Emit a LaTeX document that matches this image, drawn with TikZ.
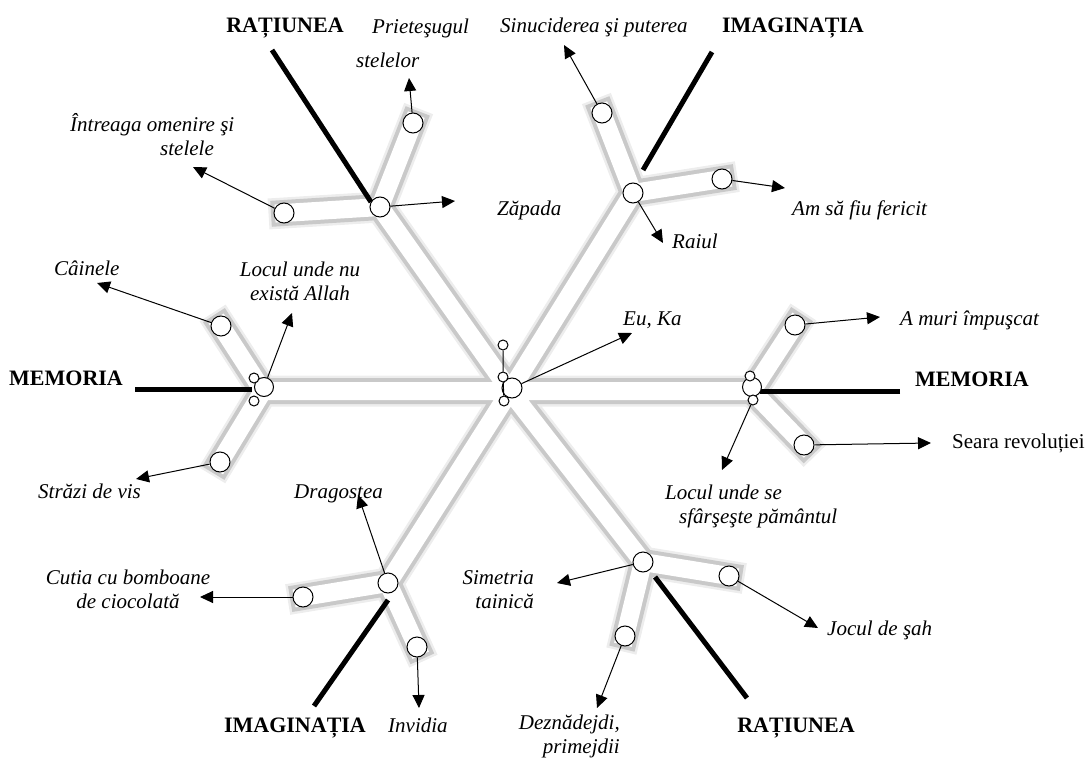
\documentclass[tikz,border=0pt]{standalone}
\usepackage{fontspec}
\setmainfont{Liberation Serif}
\usetikzlibrary{arrows.meta}

\begin{document}
\begin{tikzpicture}[x=1pt,y=-1pt,
    hubnode/.style={circle,draw,fill=white,line width=1pt,minimum size=20pt,inner sep=0pt},
    tinynode/.style={circle,draw,fill=white,line width=1pt,minimum size=10pt,inner sep=0pt},
    textnode/.style={font=\fontsize{21}{24}\selectfont\itshape,inner sep=0pt},
    axisnode/.style={font=\fontsize{22}{26}\selectfont\bfseries,inner sep=0pt,anchor=base},
    axisline/.style={line width=5pt},
    pointer/.style={line width=1pt,-{Triangle[length=13pt,width=12pt]}},
    bandglow/.style={draw=black!7,line width=31pt,line cap=rect},
    bandedge/.style={draw=black!21,line width=26pt,line cap=rect},
    bandfill/.style={draw=white,line width=18pt,line cap=rect}]
    \useasboundingbox (0,0) rectangle (1090,760);
    % skeleton
    \coordinate (mid) at (510,391);
    \coordinate (memL) at (263,391);
    \coordinate (memR) at (752,391);
    \coordinate (ratU) at (380,207);
    \coordinate (imgU) at (633,193);
    \coordinate (imgD) at (388,583);
    \coordinate (ratD) at (643,562);
    \coordinate (ratU-a) at (284,213);
    \coordinate (ratU-b) at (413,123);
    \coordinate (imgU-a) at (602,113);
    \coordinate (imgU-b) at (722,179);
    \coordinate (imgD-a) at (303,597);
    \coordinate (imgD-b) at (417,647);
    \coordinate (ratD-a) at (729,576);
    \coordinate (ratD-b) at (625,636);
    \coordinate (memL-a) at (221,326);
    \coordinate (memL-b) at (220,462);
    \coordinate (memR-a) at (795,325);
    \coordinate (memR-b) at (804,445);
    \draw[bandedge,preaction={bandglow},postaction={bandfill}]
        (mid) -- (memL) (mid) -- (memR) (mid) -- (ratU) (mid) -- (imgU) (mid) -- (imgD) (mid) -- (ratD)
        (ratU) -- (ratU-a) (ratU) -- (ratU-b) (imgU) -- (imgU-a) (imgU) -- (imgU-b)
        (imgD) -- (imgD-a) (imgD) -- (imgD-b) (ratD) -- (ratD-a) (ratD) -- (ratD-b)
        (memL) -- (memL-a) (memL) -- (memL-b) (memR) -- (memR-a) (memR) -- (memR-b);

    % black axes
    \coordinate (ratU-out) at (272,50);   \coordinate (ratU-in) at (371,202);
    \coordinate (imgU-out) at (712,52);   \coordinate (imgU-in) at (643,170);
    \coordinate (memL-out) at (135,389);  \coordinate (memL-in) at (252,389);
    \coordinate (memR-out) at (900,391);  \coordinate (memR-in) at (760,391);
    \coordinate (imgD-out) at (314,706);  \coordinate (imgD-in) at (388,600);
    \coordinate (ratD-out) at (747,698);  \coordinate (ratD-in) at (655,577);
    \draw[axisline] (ratU-out) -- (ratU-in);
    \draw[axisline] (imgU-out) -- (imgU-in);
    \draw[axisline] (memL-out) -- (memL-in);
    \draw[axisline] (memR-out) -- (memR-in);
    \draw[axisline] (imgD-out) -- (imgD-in);
    \draw[axisline] (ratD-out) -- (ratD-in);

    % circles
    \node[hubnode] (euhub) at (512,388) {};
    \node[tinynode] (eutop) at (503,345) {};
    \node[tinynode] (eumid) at (503,377) {};
    \node[tinynode] (eubot) at (504,401) {};
    \draw[line width=1pt] (eutop) -- (eumid) (eumid) -- (eubot);
    \node[hubnode, minimum size=19pt] (memlhub) at (264,387) {};
    \node[tinynode] (memltop) at (254,378) {};
    \node[tinynode] (memlbot) at (254,401) {};
    \node[hubnode, minimum size=19pt] (memrhub) at (752,387) {};
    \node[tinynode] (memrtop) at (750,376) {};
    \node[tinynode] (memrbot) at (753,400) {};
    \node[hubnode] (ratuhub) at (ratU) {};
    \node[hubnode] (imguhub) at (imgU) {};
    \node[hubnode] (imgdhub) at (imgD) {};
    \node[hubnode] (ratdhub) at (ratD) {};
    \node[hubnode] (omeniredot) at (ratU-a) {};
    \node[hubnode] (prietendot) at (ratU-b) {};
    \node[hubnode] (sinuciderdot) at (imgU-a) {};
    \node[hubnode] (fericitdot) at (imgU-b) {};
    \node[hubnode] (cutiadot) at (imgD-a) {};
    \node[hubnode] (invidiadot) at (imgD-b) {};
    \node[hubnode] (jocdot) at (ratD-a) {};
    \node[hubnode] (deznadot) at (ratD-b) {};
    \node[hubnode] (cainedot) at (memL-a) {};
    \node[hubnode] (strazidot) at (memL-b) {};
    \node[hubnode] (impuscatdot) at (memR-a) {};
    \node[hubnode] (searadot) at (memR-b) {};

    % axis names
    \node[axisnode] (ratup) at (285,33) {RAȚIUNEA};
    \node[axisnode] (imagup) at (793,33) {IMAGINAȚIA};
    \node[axisnode] (memleft) at (66,385) {MEMORIA};
    \node[axisnode] (memright) at (972,386) {MEMORIA};
    \node[axisnode] (imagdown) at (295,732) {IMAGINAȚIA};
    \node[axisnode] (ratdown) at (796,732) {RAȚIUNEA};

    % texts
    \node[textnode, anchor=base west, align=left] (prieten) at (356,68) {\hspace*{16pt}Prieteşugul\\[11pt]stelelor};
    \node[textnode, anchor=base west, align=left] (omenire) at (70,155) {Întreaga omenire şi\\\hspace*{90pt}stelele};
    \node[textnode, anchor=base west] (zapada) at (497,215) {Zăpada};
    \node[textnode, anchor=base west] (sinucidere) at (500,33) {Sinuciderea şi puterea};
    \node[textnode, anchor=base west] (raiul) at (672,248) {Raiul};
    \node[textnode, anchor=base west] (fericit) at (792,215) {Am să fiu fericit};
    \node[textnode, anchor=base west] (euka) at (623,325) {Eu, Ka};
    \node[textnode, anchor=base west] (impuscat) at (900,325) {A muri împuşcat};
    \node[textnode, anchor=base west] (caine) at (54,275) {Câinele};
    \node[textnode, anchor=base, align=center] (allah) at (300,300) {Locul unde nu\\există Allah};
    \node[textnode, anchor=base west, font=\fontsize{21}{24}\selectfont] (seara) at (952,448) {Seara revoluției};
    \node[textnode, anchor=base west, align=left] (sfarsit) at (665,523) {Locul unde se\\\hspace*{14pt}sfârşeşte pământul};
    \node[textnode, anchor=base west] (strazi) at (38,498) {Străzi de vis};
    \node[textnode, anchor=base west] (dragoste) at (294,498) {Dragostea};
    \node[textnode, anchor=base, align=center] (cutia) at (128,608) {Cutia cu bomboane\\de ciocolată};
    \node[textnode, anchor=base east, align=right] (simetria) at (534,608) {Simetria\\tainică};
    \node[textnode, anchor=base west] (jocul) at (827,635) {Jocul de şah};
    \node[textnode, anchor=base west] (invidia) at (388,732) {Invidia};
    \node[textnode, anchor=base east, align=right] (deznadejde) at (620,753) {Deznădejdi,\\primejdii};

    % pointers
    \coordinate (t-prieten) at (409,78);
    \coordinate (t-omenire) at (193,167);
    \coordinate (t-zapada) at (455,201);
    \coordinate (t-sinucidere) at (564,45);
    \coordinate (t-raiul) at (663,243);
    \coordinate (t-fericit) at (785,188);
    \coordinate (t-euka) at (632,333);
    \coordinate (t-caine) at (97,283);
    \coordinate (t-allah) at (292,313);
    \coordinate (t-strazi) at (136,479);
    \coordinate (t-impuscat) at (880,317);
    \coordinate (t-seara) at (931,443);
    \coordinate (t-sfarsit) at (722,470);
    \coordinate (t-dragoste) at (358,495);
    \coordinate (t-cutia) at (200,597);
    \coordinate (t-invidia) at (419,708);
    \coordinate (t-simetria) at (557,583);
    \coordinate (t-jocul) at (818,628);
    \coordinate (t-deznadejde) at (597,708);
    \draw[pointer] (prietendot) -- (t-prieten);
    \draw[pointer] (omeniredot) -- (t-omenire);
    \draw[pointer] (ratuhub) -- (t-zapada);
    \draw[pointer] (sinuciderdot) -- (t-sinucidere);
    \draw[pointer] (imguhub) -- (t-raiul);
    \draw[pointer] (fericitdot) -- (t-fericit);
    \draw[pointer] (euhub) -- (t-euka);
    \draw[pointer] (cainedot) -- (t-caine);
    \draw[pointer] (memlhub) -- (t-allah);
    \draw[pointer] (strazidot) -- (t-strazi);
    \draw[pointer] (impuscatdot) -- (t-impuscat);
    \draw[pointer] (searadot) -- (t-seara);
    \draw[pointer] (memrbot) -- (t-sfarsit);
    \draw[pointer] (imgdhub) -- (t-dragoste);
    \draw[pointer] (cutiadot) -- (t-cutia);
    \draw[pointer] (invidiadot) -- (t-invidia);
    \draw[pointer] (ratdhub) -- (t-simetria);
    \draw[pointer] (jocdot) -- (t-jocul);
    \draw[pointer] (deznadot) -- (t-deznadejde);
\end{tikzpicture}
\end{document}
